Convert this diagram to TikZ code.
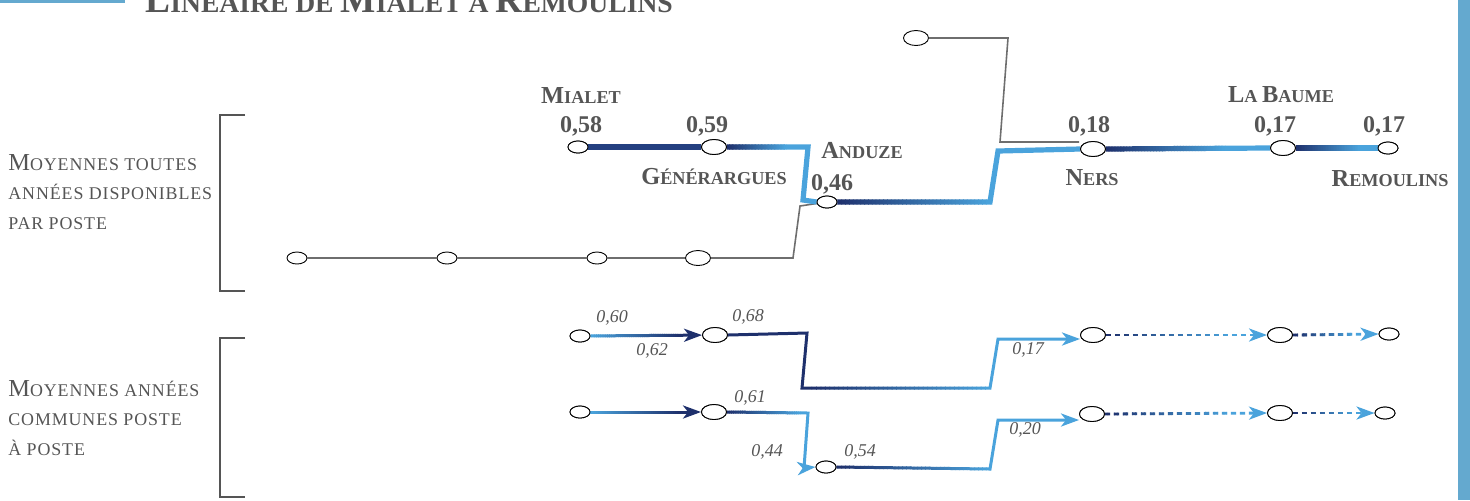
\documentclass[tikz,border=0pt]{standalone}
\usepackage{fontspec}
\setmainfont{Liberation Serif}
\newfontfamily\spacedfont[LetterSpace=5]{Liberation Serif}
\usetikzlibrary{shapes.geometric,arrows.meta}
\definecolor{dkblue}{RGB}{30,48,108}
\definecolor{midblue}{RGB}{36,64,128}
\definecolor{ltblue}{RGB}{74,163,220}
\definecolor{barblue}{RGB}{100,169,207}
\definecolor{txtgray}{RGB}{85,85,85}
\definecolor{linegray}{RGB}{110,110,110}
% label small caps (bold)
\newcommand{\lsc}[2]{{\bfseries\fontsize{12.2}{13}\selectfont #1\fontsize{9.1}{10}\selectfont #2}}
% title small caps
\newcommand{\tsc}[2]{{\bfseries\fontsize{18.7}{20}\selectfont #1\fontsize{13.8}{15}\selectfont #2}}
% side text small caps
\newcommand{\ssbig}[1]{{\spacedfont\fontsize{12.2}{14.5}\selectfont #1}}
\newcommand{\sssmall}[1]{{\spacedfont\fontsize{8.95}{14.5}\selectfont #1}}
% gradient along x of a stroked path
\newcommand{\gradpath}[6]{%
  \begin{scope}\clip (-10,-10) rectangle (#3,600); \draw[#1,color=#4] #2; \end{scope}
  \foreach \i in {0,...,39}{%
    \pgfmathsetmacro\xa{#3+(#5-#3)*\i/40-0.4}%
    \pgfmathsetmacro\xb{#3+(#5-#3)*(\i+1)/40+0.4}%
    \pgfmathsetmacro\pct{100*(\i+0.5)/40}%
    \begin{scope}\clip (\xa,-10) rectangle (\xb,600); \draw[#1,color=#6!\pct!#4] #2; \end{scope}
  }%
  \begin{scope}\clip (#5,-10) rectangle (1600,600); \draw[#1,color=#6] #2; \end{scope}
}
\tikzset{
  stsmall/.style={ellipse, draw=black, line width=0.45pt, fill=white, inner sep=0pt, minimum width=10pt, minimum height=6pt},
  stbig/.style={ellipse, draw=black, line width=0.45pt, fill=white, inner sep=0pt, minimum width=12.5pt, minimum height=7.5pt},
  thickline/.style={line width=2.6pt},
  medline/.style={line width=1.5pt},
  grayline/.style={draw=linegray, line width=0.8pt},
  dashline/.style={line width=1.4pt, dash pattern=on 2.6pt off 1.9pt},
  arr/.style={-{Stealth[length=9pt,width=6.5pt,inset=2.5pt]}},
  lab/.style={text=txtgray, inner sep=0pt},
  num/.style={text=txtgray, inner sep=0pt, font=\bfseries\fontsize{12}{13}\selectfont},
  inum/.style={text=txtgray, inner sep=0pt, font=\itshape\fontsize{9}{10}\selectfont},
  bracket/.style={draw=txtgray, line width=1.4pt},
  side/.style={text=txtgray, inner sep=0pt, align=left, anchor=west, font=\fontsize{9}{14.6}\selectfont}
}
\begin{document}
\begin{tikzpicture}[x=0.5pt,y=-0.5pt]
\useasboundingbox (0,0) rectangle (1470,500);
% bars
\fill[barblue] (0,0) rectangle (125,3);
\fill[barblue] (1458,0) rectangle (1470,500);
% title
\node[lab, anchor=base west] (title) at (145,12) {\tsc{L}{INÉAIRE DE }\tsc{M}{IALET À }\tsc{R}{EMOULINS}};
% side texts and brackets
\node[side] (side1) at (8,192) {\ssbig{M}\sssmall{OYENNES TOUTES}\\\sssmall{ANNÉES DISPONIBLES}\\\sssmall{PAR POSTE}};
\node[side] (side2) at (8,418) {\ssbig{M}\sssmall{OYENNES ANNÉES}\\\sssmall{COMMUNES POSTE}\\\sssmall{À POSTE}};
\draw[bracket] (245,115) -- (220,115) -- (220,291) -- (245,291);
\draw[bracket] (245,338) -- (220,338) -- (220,497) -- (245,497);

% ---------- top section: stations ----------
\node[stsmall] (mialet) at (578,147) {};
\node[stbig] (gen) at (714,147) {};
\node[stsmall] (anduze) at (827,202) {};
\node[stbig] (ners) at (1093,149) {};
\node[stbig] (baume) at (1283,148) {};
\node[stsmall] (remou) at (1388,148) {};
\node[stsmall] (g1) at (297,258) {};
\node[stsmall] (g2) at (447,258) {};
\node[stsmall] (g3) at (597,258) {};
\node[stbig] (g4) at (698,258) {};
\node[stbig] (gtop) at (916,38) {};
\coordinate (c1) at (808,147);
\coordinate (c2) at (803,200);
\coordinate (c3) at (990,202);
\coordinate (c4) at (998,151);
\coordinate (k1) at (1008,38);
\coordinate (k2) at (1000,142);
\coordinate (nersg) at (1079,142);
\coordinate (k3) at (793,258);
\coordinate (k4) at (800,206);

% gray branches
\draw[grayline] (g1) -- (g2) -- (g3) -- (g4);
\draw[grayline] (g4.east) -- (k3) -- (k4) -- (anduze.188);
\draw[grayline] (gtop.east) -- (k1) -- (k2) -- (nersg);

% thick lines
\draw[thickline, midblue] (mialet) -- (gen);
\gradpath{thickline}{(gen.east) -- (c1) -- (c2) -- (anduze.west)}{728}{dkblue}{786}{ltblue}
\gradpath{thickline}{(anduze.east) -- (c3) -- (c4) -- (ners.west)}{838}{dkblue}{990}{ltblue}
\gradpath{thickline}{(ners.east) -- (baume.west)}{1106}{dkblue}{1225}{ltblue}
\gradpath{thickline}{(baume.east) -- (remou.west)}{1296}{dkblue}{1360}{ltblue}
% redraw stations on top
\node[stsmall] at (mialet) {};
\node[stbig] at (gen) {};
\node[stsmall] at (anduze) {};
\node[stbig] at (ners) {};
\node[stbig] at (baume) {};
\node[stsmall] at (remou) {};

% top labels
\node[lab] (lmialet) at (581,96) {\lsc{M}{IALET}};
\node[num] (n058) at (581,126) {0,58};
\node[num] (n059) at (707,126) {0,59};
\node[lab] (lgen) at (714,177) {\lsc{G}{ÉNÉRARGUES}};
\node[lab] (landuze) at (862,151) {\lsc{A}{NDUZE}};
\node[num] (n046) at (832,184) {0,46};
\node[num] (n018) at (1089,126) {0,18};
\node[lab] (lners) at (1092,178) {\lsc{N}{ERS}};
\node[lab] (lbaume) at (1281,95) {\lsc{L}{A }\lsc{B}{AUME}};
\node[num] (n017a) at (1275,126) {0,17};
\node[num] (n017b) at (1384,126) {0,17};
\node[lab] (lremou) at (1390,179) {\lsc{R}{EMOULINS}};

% ---------- bottom rows ----------
\node[stsmall] (r1a) at (580,336) {};
\node[stbig] (r1b) at (715,335) {};
\node[stbig] (r1c) at (1093,335) {};
\node[stbig] (r1d) at (1280,335) {};
\node[stsmall] (r1e) at (1389,334) {};
\node[stsmall] (r2a) at (580,412) {};
\node[stbig] (r2b) at (714,412) {};
\node[stsmall] (r2c) at (826,467) {};
\node[stbig] (r2d) at (1092,414) {};
\node[stbig] (r2e) at (1280,413) {};
\node[stsmall] (r2f) at (1385,413) {};
\coordinate (d1) at (807,333);
\coordinate (d2) at (802,388);
\coordinate (d3) at (990,388);
\coordinate (d4) at (998,339);
\coordinate (e1) at (808,413);
\coordinate (e2) at (804,468);
\coordinate (e3) at (990,469);
\coordinate (e4) at (998,420);

% row 1
\gradpath{medline,arr}{(r1a) -- (r1b)}{592}{ltblue}{680}{dkblue}
\gradpath{medline,arr}{(r1b.east) -- (d1) -- (d2) -- (d3) -- (d4) -- (r1c.west |- d4)}{812}{dkblue}{990}{ltblue}
\gradpath{dashline,arr}{(r1c.east) -- (r1d.west)}{1108}{dkblue}{1230}{ltblue}
\gradpath{dashline,arr}{(r1d.east) -- (r1e.west)}{1296}{dkblue}{1355}{ltblue}
% row 2
\gradpath{medline,arr}{(r2a) -- (r2b)}{592}{ltblue}{680}{dkblue}
\gradpath{medline,arr}{(r2b.east) -- (e1) -- (e2) -- (r2c.west)}{728}{dkblue}{800}{ltblue}
\gradpath{medline,arr}{(r2c.east) -- (e3) -- (e4) -- (r2d.west |- e4)}{838}{dkblue}{990}{ltblue}
\gradpath{dashline,arr}{(r2d.east) -- (r2e.west)}{1108}{dkblue}{1230}{ltblue}
\gradpath{dashline,arr}{(r2e.east) -- (r2f.west)}{1296}{dkblue}{1355}{ltblue}
% redraw stations
\foreach \n/\s in {r1a/stsmall,r1b/stbig,r1c/stbig,r1d/stbig,r1e/stsmall,r2a/stsmall,r2b/stbig,r2c/stsmall,r2d/stbig,r2e/stbig,r2f/stsmall}{\node[\s] at (\n) {};}

% italic values
\node[inum] (v060) at (612,318) {0,60};
\node[inum] (v062) at (652,351) {0,62};
\node[inum] (v068) at (748,317) {0,68};
\node[inum] (v017) at (1028,350) {0,17};
\node[inum] (v061) at (750,398) {0,61};
\node[inum] (v044) at (767,452) {0,44};
\node[inum] (v054) at (860,452) {0,54};
\node[inum] (v020) at (1025,430) {0,20};
\end{tikzpicture}
\end{document}
